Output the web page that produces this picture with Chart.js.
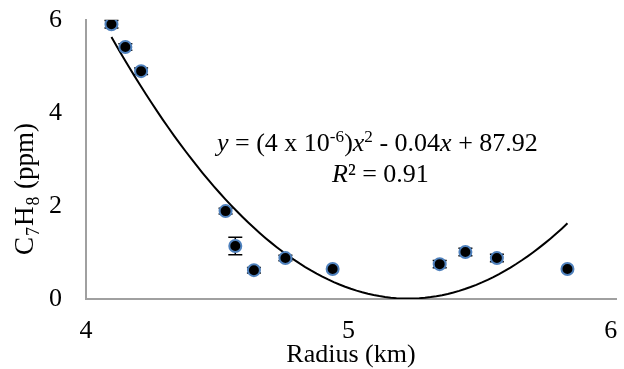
<!DOCTYPE html>
<html><head><meta charset="utf-8">
<script src="https://cdn.jsdelivr.net/npm/chart.js@4"></script>
<style>html,body{margin:0;padding:0;background:#fff}#wrap{width:624px;height:369px}</style>
</head><body>
<div id="wrap"><canvas id="c"></canvas></div>
<script>
// ---- data ----
const radiusKm = [4.097, 4.150, 4.210, 4.532, 4.569, 4.640, 4.760, 4.940, 5.348, 5.446, 5.566, 5.835];
const c7h8Ppm  = [5.91, 5.42, 4.90, 1.89, 1.14, 0.62, 0.88, 0.645, 0.75, 1.01, 0.88, 0.645];
const errPpm   = [0.08, 0.07, 0.07, 0.06, 0.19, 0.06, 0.06, 0.0, 0.08, 0.08, 0.08, 0.0];
const xTickValues = [4, 5, 6];
const yTickValues = [0, 2, 4, 6];
const xTitle = 'Radius (km)';
const eqLine1 = [{t:'y',i:1},{t:' = (4 x 10'},{t:'-6',sup:1},{t:')'},{t:'x',i:1},{t:'2',sup:1},{t:' - 0.04'},{t:'x',i:1},{t:' + 87.92'}];
const eqLine2 = [{t:'R',i:1},{t:'² = 0.91'}];
const yTitleSegs = [{t:'C'},{t:'7',sub:1},{t:'H'},{t:'8',sub:1},{t:' (ppm)'}];

const FONT = "'Liberation Serif','Times New Roman',serif";

// ---- least-squares quadratic trendline (like the spreadsheet's polynomial trendline) ----
function quadFit(xs, ys){
  let S=[0,0,0,0,0], T=[0,0,0];
  for(let k=0;k<xs.length;k++){
    const x=xs[k], y=ys[k];
    for(let p=0;p<5;p++) S[p]+=Math.pow(x,p);
    for(let p=0;p<3;p++) T[p]+=y*Math.pow(x,p);
  }
  const M=[[S[0],S[1],S[2],T[0]],[S[1],S[2],S[3],T[1]],[S[2],S[3],S[4],T[2]]];
  for(let i=0;i<3;i++){
    for(let j=i+1;j<3;j++){
      const f=M[j][i]/M[i][i];
      for(let k=i;k<4;k++) M[j][k]-=f*M[i][k];
    }
  }
  const r=[0,0,0];
  for(let i=2;i>=0;i--){
    let s=M[i][3];
    for(let k=i+1;k<3;k++) s-=M[i][k]*r[k];
    r[i]=s/M[i][i];
  }
  return r; // c0 + c1 x + c2 x^2
}
const coef = quadFit(radiusKm, c7h8Ppm);
const xMin = Math.min(...radiusKm), xMax = Math.max(...radiusKm);
const trend = [];
for(let k=0;k<=80;k++){
  const x = xMin + (xMax-xMin)*k/80;
  trend.push({x, y: coef[0]+coef[1]*x+coef[2]*x*x});
}

const points = radiusKm.map((x,k)=>({x, y:c7h8Ppm[k]}));

function segFont(s, size){
  const sz = (s.sup||s.sub) ? size*0.66 : size;
  return (s.i?'italic ':'') + sz + 'px ' + FONT;
}
function drawRich(ctx, segs, x, y, size, gap){
  let cx = x;
  gap = gap||0;
  for(const s of segs){
    ctx.font = segFont(s, size);
    const dy = s.sup ? -size*0.36 : (s.sub ? size*0.24 : 0);
    ctx.fillText(s.t, cx, y+dy);
    cx += ctx.measureText(s.t).width + gap;
  }
  return cx - x;
}
function richWidth(ctx, segs, size, gap){
  let w=0;
  gap = gap||0;
  for(const s of segs){
    ctx.font = segFont(s, size);
    w += ctx.measureText(s.t).width + gap;
  }
  return w - gap;
}

const errorBars = {
  id:'errorBars',
  beforeDatasetsDraw(chart){
    const ctx=chart.ctx, xs=chart.scales.x, ys=chart.scales.y;
    ctx.save();
    ctx.strokeStyle='#000'; ctx.lineWidth=1.5;
    errPpm.forEach((e,k)=>{
      if(!e) return;
      const px=xs.getPixelForValue(radiusKm[k]);
      const y1=ys.getPixelForValue(c7h8Ppm[k]+e), y2=ys.getPixelForValue(c7h8Ppm[k]-e);
      ctx.beginPath();
      ctx.moveTo(px,y1); ctx.lineTo(px,y2);
      ctx.moveTo(px-7,y1); ctx.lineTo(px+7,y1);
      ctx.moveTo(px-7,y2); ctx.lineTo(px+7,y2);
      ctx.stroke();
    });
    ctx.restore();
  }
};

const textLayer = {
  id:'textLayer',
  afterDraw(chart){
    const ctx=chart.ctx;
    ctx.save();
    ctx.fillStyle='#000';
    ctx.textBaseline='alphabetic';
    ctx.textAlign='left';
    drawRich(ctx, eqLine1, 217, 151, 26);
    drawRich(ctx, eqLine2, 332, 182, 26);
    // y-axis title, rotated
    const w = richWidth(ctx, yTitleSegs, 27, 1);
    ctx.translate(33, 189);
    ctx.rotate(-Math.PI/2);
    drawRich(ctx, yTitleSegs, -w/2, 0, 27, 1);
    ctx.restore();
  }
};

new Chart(document.getElementById('c'), {
  type:'scatter',
  data:{
    datasets:[
      {
        label:'C7H8',
        data: points,
        order:0,
        pointRadius:6,
        pointHoverRadius:6,
        pointBorderWidth:2,
        backgroundColor:'#000',
        borderColor:'#4f81bd',
        showLine:false
      },
      {
        label:'trend',
        data: trend,
        order:1,
        showLine:true,
        pointRadius:0,
        borderColor:'#000',
        borderWidth:2,
        fill:false,
        tension:0
      }
    ]
  },
  options:{
    responsive:true,
    maintainAspectRatio:false,
    animation:false,
    events:[],
    layout:{padding:{top:20,right:0,left:0,bottom:0}},
    plugins:{legend:{display:false}, tooltip:{enabled:false}},
    scales:{
      x:{
        type:'linear', min:4, max:6.02,
        afterBuildTicks(s){ s.ticks = xTickValues.map(v=>({value:v})); },
        afterFit(s){ s.height=70; s.paddingLeft=0; s.paddingRight=0; },
        grid:{display:false, drawTicks:false},
        border:{display:true, color:'#a0a0a0', width:2},
        ticks:{color:'#000', font:{family:FONT, size:26}, padding:17, maxRotation:0, autoSkip:false},
        title:{display:true, text:xTitle, color:'#000', font:{family:FONT, size:26}, padding:{top:0,bottom:-2}}
      },
      y:{
        type:'linear', min:0, max:6,
        afterBuildTicks(s){ s.ticks = yTickValues.map(v=>({value:v})); },
        afterFit(s){ s.width=86; s.paddingTop=0; s.paddingBottom=0; },
        grid:{display:false, drawTicks:false},
        border:{display:true, color:'#a0a0a0', width:2},
        ticks:{color:'#000', font:{family:FONT, size:26}, padding:24, autoSkip:false}
      }
    }
  },
  plugins:[errorBars, textLayer]
});
</script>
</body></html>
